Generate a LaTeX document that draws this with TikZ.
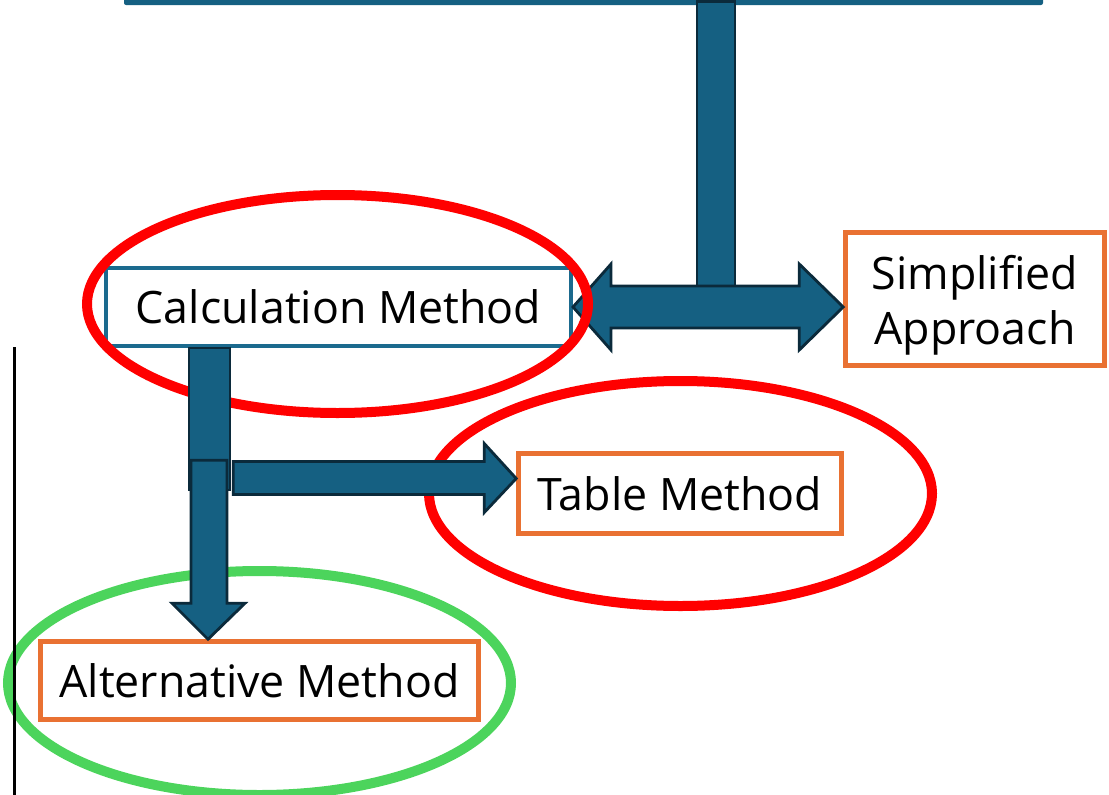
\documentclass[tikz,border=0pt]{standalone}
\usepackage{fontspec}
\setmainfont{Open Sans}
\usepackage{tikz}
\usetikzlibrary{shapes.geometric,calc,positioning}

\definecolor{arrowblue}{HTML}{156082}
\definecolor{arrowline}{HTML}{0B2A3B}
\definecolor{calcblue}{HTML}{1B6A8E}
\definecolor{boxorange}{HTML}{E97132}
\definecolor{ringgreen}{HTML}{4CD45C}

\begin{document}
\begin{tikzpicture}[x=1pt,y=-1pt,line join=miter,
box/.style={rectangle, draw=boxorange, line width=4.5pt, fill=white, inner sep=0pt, font=\fontsize{44.7}{55}\selectfont},
ring/.style={ellipse, line width=10pt, inner sep=0pt},
blk/.style={fill=arrowblue, draw=arrowline, line width=2.8pt}]
\useasboundingbox (0,0) rectangle (1109,795);
\node (bar) at (583.5,-2) [rectangle, fill=arrowblue, rounded corners=2pt, minimum width=919pt, minimum height=14pt] {};
\node (calc) at (338.5,307) [box, draw=calcblue, line width=4pt, minimum width=465pt, minimum height=78pt] {Calculation Method};
\node (simp) at (975,299) [box, align=center, minimum width=259pt, minimum height=133pt] {\raisebox{0pt}[\dimexpr\height+12pt]{Simplified}\\Approach};
\node (table) at (680,493.5) [box, minimum width=323pt, minimum height=80pt] {Table Method};
\node (alt) at (259.5,680.5) [box, minimum width=438pt, minimum height=78pt] {Alternative Method};
\coordinate (split) at (716,307);
\coordinate (rtip) at (calc.east -| simp.west);
\coordinate (ruletop) at (14,347);
\coordinate (rulebot) at (14,795);
% top stem and the two-way arrow
\draw [blk] ($(split)+(-19,-20)$) rectangle ($(split |- bar.south)+(19,-4)$);
\draw [blk] (calc.east) -- ++(38,-43) -- ++(0,22) -- ($(rtip)+(-44,-21)$) -- ++(0,-22)
  -- (rtip) -- ++(-44,43) -- ++(0,-22) -- ($(calc.east)+(38,21)$) -- ++(0,22) -- cycle;
\node (calcring) at (337.5,304) [ring, draw=red, minimum width=501pt, minimum height=218pt] {};
\node (tablering) at (680.5,493.5) [ring, draw=red, minimum width=503pt, minimum height=225pt] {};
\node (altring) at (259.5,683) [ring, draw=ringgreen, minimum width=503pt, minimum height=224pt] {};
\begin{scope}
\draw [blk] ($(calc.south west)+(85,0)$) rectangle ++(41,142);
\draw [blk] ($(table.west)+(0,-15)$) -- ++(-32,-35) -- ++(0,18) -- ++(-251,0) -- ++(0,33)
  -- ++(251,0) -- ++(0,18) -- cycle;
\draw [blk] ($(alt.north)+(-51.5,0)$) -- ++(37,-36) -- ++(-18,0) -- ++(0,-143) -- ++(-36,0)
  -- ++(0,143) -- ++(-19,0) -- cycle;
%\draw [blk] (calc.south) -- (alt.north);
\end{scope}
\draw [line width=3pt] (ruletop) -- (rulebot);
\end{tikzpicture}
\end{document}
